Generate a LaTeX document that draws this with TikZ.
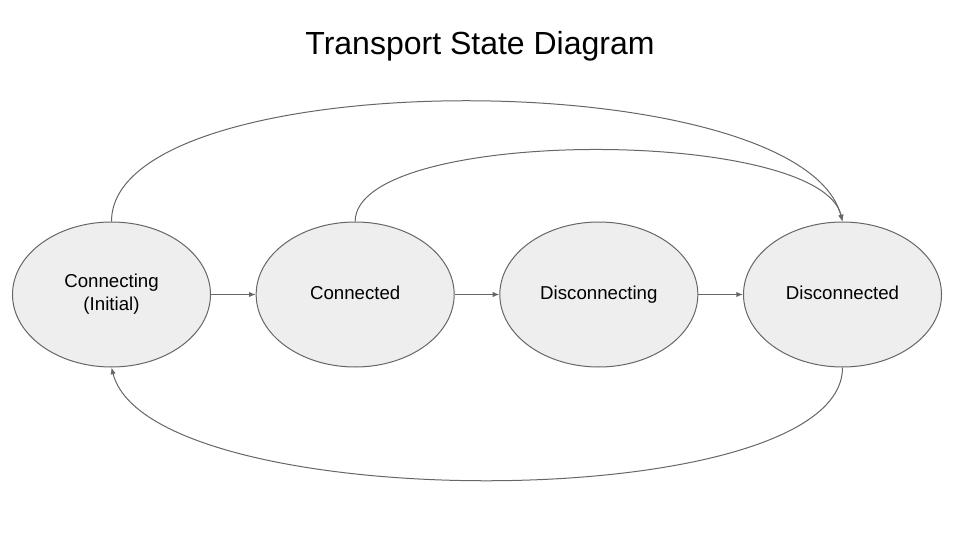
\documentclass[tikz,border=0pt]{standalone}
\usepackage{fontspec}
\setmainfont{Liberation Sans}
\usetikzlibrary{positioning,shapes.geometric,arrows.meta}

\definecolor{stategray}{HTML}{EEEEEE}
\definecolor{linegray}{HTML}{666666}

\begin{document}
\begin{tikzpicture}[
    x=0.75pt, y=0.75pt,
    node distance=33.5pt,
    state/.style={ellipse, draw=linegray, fill=stategray, line width=0.75pt,
        minimum width=148.5pt, minimum height=108.75pt, inner sep=0pt,
        align=center, font=\fontsize{14}{17}\selectfont},
    trans/.style={draw=linegray, line width=0.75pt,
        -{Latex[length=5pt,width=4pt]}}
]
    \useasboundingbox (0,0) rectangle (960,540);

    \node[font=\fontsize{24}{29}\selectfont] (title) at (480,494) {Transport State Diagram};

    \node[state] (connecting) at (111.5,245.5) {Connecting\strut\\(Initial)\strut};
    \node[state, right=of connecting] (connected) {Connected\strut};
    \node[state, right=of connected] (disconnecting) {Disconnecting\strut};
    \node[state, right=of disconnecting] (disconnected) {Disconnected\strut};

    \draw[trans] (connecting) -- (connected);
    \draw[trans] (connected) -- (disconnecting);
    \draw[trans] (disconnecting) -- (disconnected);

    % loops round the chain
    \draw[trans] (connecting.north) .. controls +(0,160) and +(-42,160) .. (disconnected.north);
    \draw[trans] (connected.north) .. controls +(0,95) and +(-22,95) .. (disconnected.north);
    \draw[trans] (disconnected.south) .. controls +(0,-150) and +(38,-150) .. (connecting.south);
\end{tikzpicture}
\end{document}
